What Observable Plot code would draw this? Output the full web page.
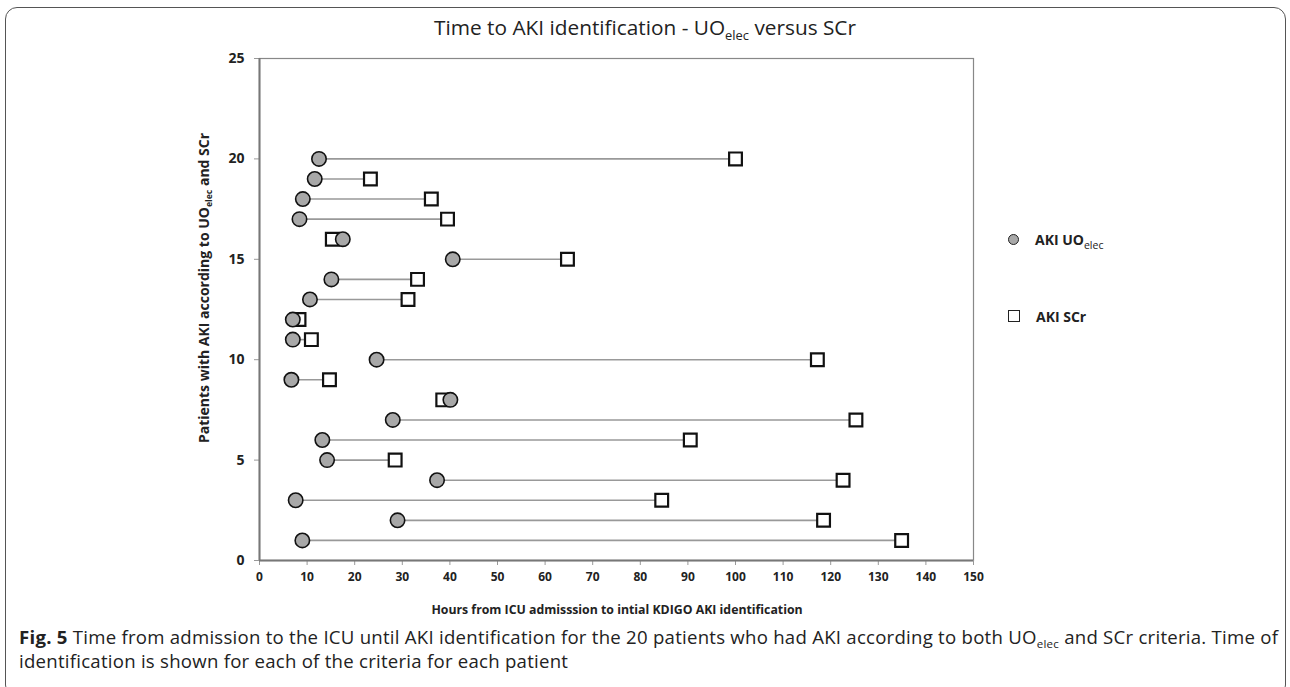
<!DOCTYPE html>
<html><head><meta charset="utf-8">
<script src="https://cdn.jsdelivr.net/npm/d3@7"></script>
<script src="https://cdn.jsdelivr.net/npm/@observablehq/plot@0.6"></script>
<style>
body{margin:0;background:#fff;font-family:"Open Sans",sans-serif;color:#222;}
#wrap{position:relative;width:1290px;height:687px;overflow:hidden;}
#outer{position:absolute;left:5px;top:7px;width:1281px;height:690px;border:1.5px solid #555;border-radius:12px;box-sizing:border-box;}
#chart{position:absolute;left:0;top:0;}
#title{position:absolute;left:0;width:1290px;top:13px;text-align:center;font-size:20.8px;color:#222;white-space:nowrap;}
sub{font-size:0.62em;vertical-align:-0.35em;line-height:0;}
#ylab{position:absolute;left:203px;top:288px;transform:translate(-50%,-50%) rotate(-90deg);font-size:14px;font-weight:bold;white-space:nowrap;}
#xlab{position:absolute;left:617px;top:609px;transform:translate(-50%,-50%);font-size:12.3px;font-weight:bold;white-space:nowrap;}
.leg{position:absolute;left:1008px;font-size:14px;font-weight:bold;white-space:nowrap;}
.leg sub{font-weight:normal;font-size:0.75em;}
.sym{display:inline-block;box-sizing:border-box;margin-right:16px;vertical-align:middle;position:relative;top:-2px;}
#caption{position:absolute;left:19px;top:625px;font-size:18.6px;letter-spacing:0.25px;line-height:24px;white-space:nowrap;color:#222;}
svg text{font-weight:bold;}
</style></head>
<body>
<div id="wrap">
  <div id="outer"></div>
  <div id="chart"></div>
  <div id="title">Time to AKI identification - UO<sub>elec</sub> versus SCr</div>
  <div id="ylab">Patients with AKI according to UO<sub>elec</sub> and SCr</div>
  <div id="xlab">Hours from ICU admisssion to intial KDIGO AKI identification</div>
  <div class="leg" style="top:230px"><span class="sym" style="width:11px;height:11px;border-radius:50%;background:#a8a8a8;border:1.3px solid #222"></span><span>AKI UO<sub>elec</sub></span></div>
  <div class="leg" style="top:307px"><span class="sym" style="width:12px;height:12px;background:#fff;border:1.6px solid #222"></span><span>AKI SCr</span></div>
  <div id="caption"><b>Fig. 5</b> Time from admission to the ICU until AKI identification for the 20 patients who had AKI according to both UO<sub>elec</sub> and SCr criteria. Time of<br>identification is shown for each of the criteria for each patient</div>
</div>
<script>
const patients = [1,2,3,4,5,6,7,8,9,10,11,12,13,14,15,16,17,18,19,20];
const uoHours  = [9.0, 29.0, 7.6, 37.3, 14.2, 13.2, 28.0, 40.1, 6.7, 24.6, 7.0, 7.0, 10.6, 15.1, 40.6, 17.5, 8.4, 9.1, 11.6, 12.5];
const scrHours = [134.9, 118.5, 84.5, 122.6, 28.5, 90.5, 125.3, 38.5, 14.7, 117.2, 10.9, 8.3, 31.2, 33.2, 64.7, 15.3, 39.5, 36.1, 23.3, 100.0];
const xTicks = [0,10,20,30,40,50,60,70,80,90,100,110,120,130,140,150];
const yTicks = [0,5,10,15,20,25];

const rows = patients.map((p,i)=>({patient:p, uo:uoHours[i], scr:scrHours[i]}));

const chart = Plot.plot({
  width:1290, height:625,
  marginLeft:259, marginRight:317, marginTop:58, marginBottom:65,
  x:{domain:[0,150]},
  y:{domain:[0,25]},
  style:{fontFamily:"Open Sans", color:"#222", background:"transparent", overflow:"visible"},
  marks:[
    Plot.frame({stroke:"#888", strokeWidth:1.2}),
    Plot.axisX({ticks:xTicks, tickSize:5, tickPadding:7, fontSize:12, fontWeight:"bold", label:null, stroke:"#999", fill:"#222"}),
    Plot.axisY({ticks:yTicks, tickSize:5, tickPadding:10, fontSize:14, fontWeight:"bold", label:null, stroke:"#999", fill:"#222"}),
    Plot.ruleX([0],{stroke:"#777",strokeWidth:2}),
    Plot.ruleY([0],{stroke:"#777",strokeWidth:2}),
    Plot.link(rows,{x1:"uo",x2:"scr",y1:"patient",y2:"patient",stroke:"#999",strokeWidth:1.6}),
    Plot.dot(rows,{x:"scr",y:"patient",symbol:"square",r:7.2,fill:"white",stroke:"#111",strokeWidth:2.2}),
    Plot.dot(rows,{x:"uo",y:"patient",r:7.2,fill:"#a8a8a8",stroke:"#111",strokeWidth:1.6})
  ]
});
document.getElementById("chart").appendChild(chart);
</script>
</body></html>
